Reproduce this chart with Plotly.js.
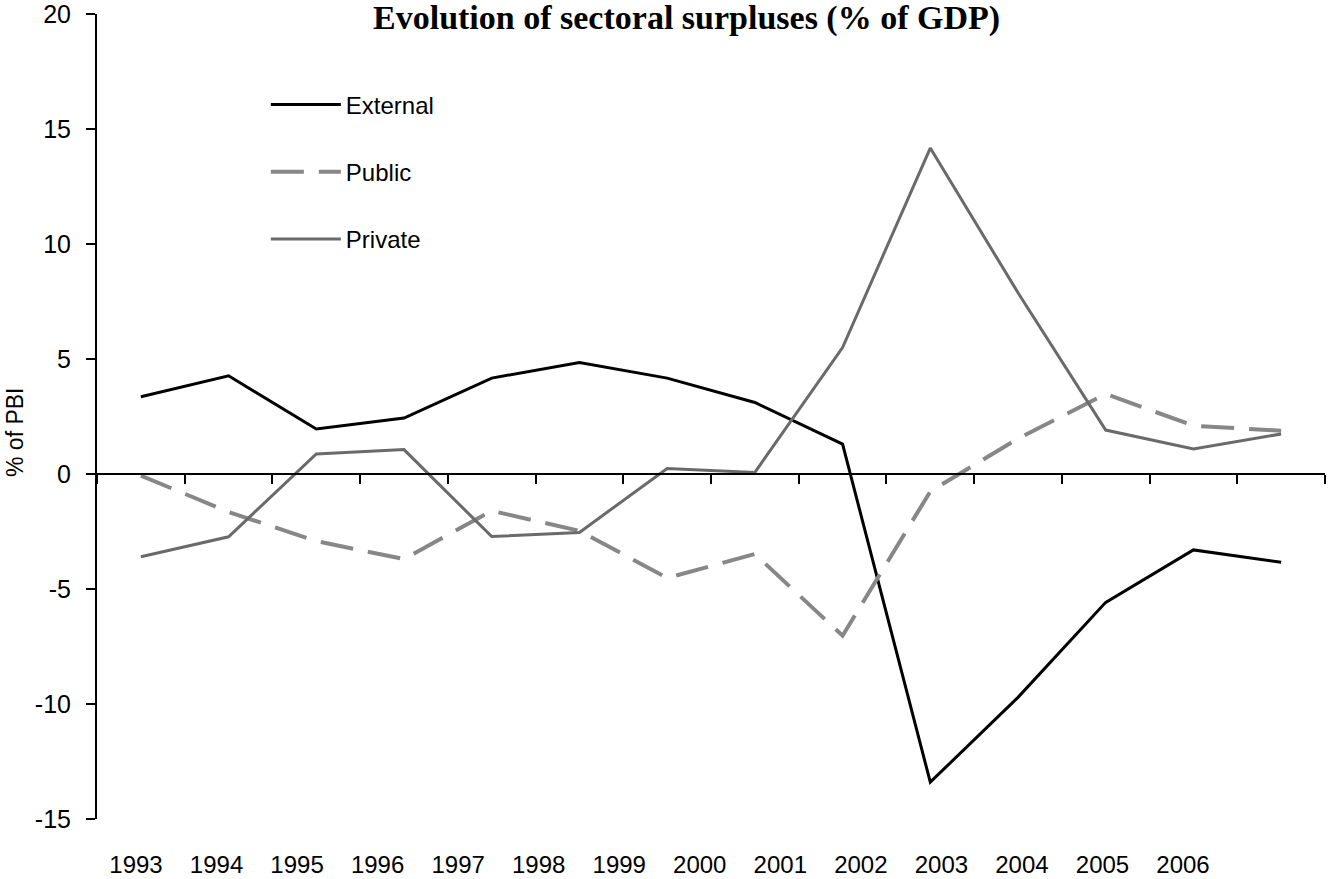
<!DOCTYPE html>
<html>
<head>
<meta charset="utf-8">
<script src="https://cdn.plot.ly/plotly-3.0.1.min.js"></script>
<style>html,body{margin:0;padding:0;background:#fff;}#chart{width:1328px;height:879px;}</style>
</head>
<body>
<div id="chart"></div>
<script>
const years = ["1993","1994","1995","1996","1997","1998","1999","2000","2001","2002","2003","2004","2005","2006"];
const external = [3.36, 4.27, 1.96, 2.43, 4.17, 4.85, 4.17, 3.11, 1.30, -13.4, -9.71, -5.58, -3.3, -3.84];
const publicBal = [-0.07, -1.65, -2.92, -3.7, -1.6, -2.47, -4.52, -3.48, -7.03, -0.76, 1.54, 3.48, 2.1, 1.88];
const privateBal = [-3.6, -2.73, 0.87, 1.06, -2.72, -2.54, 0.24, 0.07, 5.5, 14.17, 7.88, 1.91, 1.09, 1.74];
const seriesNames = ["External", "Public", "Private"];
const yTickVals = [-15, -10, -5, 0, 5, 10, 15, 20];
const yTickText = ["-15", "-10", "-5", "0", "5", "10", "15", "20"];
const titleText = "Evolution of sectoral surpluses (% of GDP)";
const yTitle = "% of PBI";

const traces = [
  {x: years, y: external, name: seriesNames[0], type: "scatter", mode: "lines",
   line: {color: "#000000", width: 3}, legendgroup: "a"},
  {x: years, y: publicBal, name: seriesNames[1], type: "scatter", mode: "lines",
   line: {color: "#878787", width: 4, dash: "33px,15px"}, legendgroup: "b"},
  {x: years, y: privateBal, name: seriesNames[2], type: "scatter", mode: "lines",
   line: {color: "#6a6a6a", width: 3}, legendgroup: "c"},
  {x: years, y: years.map(() => null), xaxis: "x2", type: "scatter", mode: "lines",
   showlegend: false, hoverinfo: "skip"}
];

const layout = {
  width: 1328, height: 879,
  margin: {l: 97, r: 3, t: 14, b: 60},
  paper_bgcolor: "#ffffff", plot_bgcolor: "#ffffff",
  font: {family: "Arial, 'Liberation Sans', sans-serif", color: "#000"},
  title: {text: "<b>" + titleText + "</b>", font: {family: "'Liberation Serif', 'Times New Roman', serif", size: 34, color: "#000"},
          x: 0.517, xref: "container", xanchor: "center", y: 0.9805, yref: "container", yanchor: "middle"},
  showlegend: true,
  legend: {x: 0.1375, y: 0.915, xanchor: "left", yanchor: "top", bgcolor: "rgba(0,0,0,0)",
           font: {size: 24, color: "#000"}, traceorder: "grouped", tracegroupgap: 33, itemwidth: 70},
  xaxis: {type: "category", categoryorder: "array", categoryarray: years, range: [-0.5, 13.5],
          anchor: "free", position: 15/35, showline: true, linecolor: "#000", linewidth: 2,
          ticks: "outside", ticklen: 9, tickwidth: 2, tickcolor: "#000", tickson: "boundaries",
          showticklabels: false, showgrid: false, zeroline: false, fixedrange: true},
  xaxis2: {type: "category", categoryorder: "array", categoryarray: years, overlaying: "x", anchor: "y",
           side: "bottom", range: [-0.484, 14.763], showline: false, ticks: "", showgrid: false,
           zeroline: false, tickfont: {size: 24, color: "#000"}, ticklabelstandoff: 29},
  yaxis: {range: [-15, 20], tickmode: "array", tickvals: yTickVals, ticktext: yTickText,
          showline: true, linecolor: "#000", linewidth: 2,
          ticks: "outside", ticklen: 9, tickwidth: 2, tickcolor: "#000", showgrid: false, zeroline: false,
          tickfont: {size: 25, color: "#000"}, ticklabelstandoff: 10, ticklabeloverflow: "allow", domain: [0, 1]},
  annotations: [{text: yTitle, xref: "paper", yref: "paper", x: -0.0668, y: 0.4807, xanchor: "center",
                 yanchor: "middle", textangle: -90, showarrow: false, font: {size: 23, color: "#000"}}]
};

Plotly.newPlot("chart", traces, layout, {displayModeBar: false, staticPlot: true});
</script>
</body>
</html>
